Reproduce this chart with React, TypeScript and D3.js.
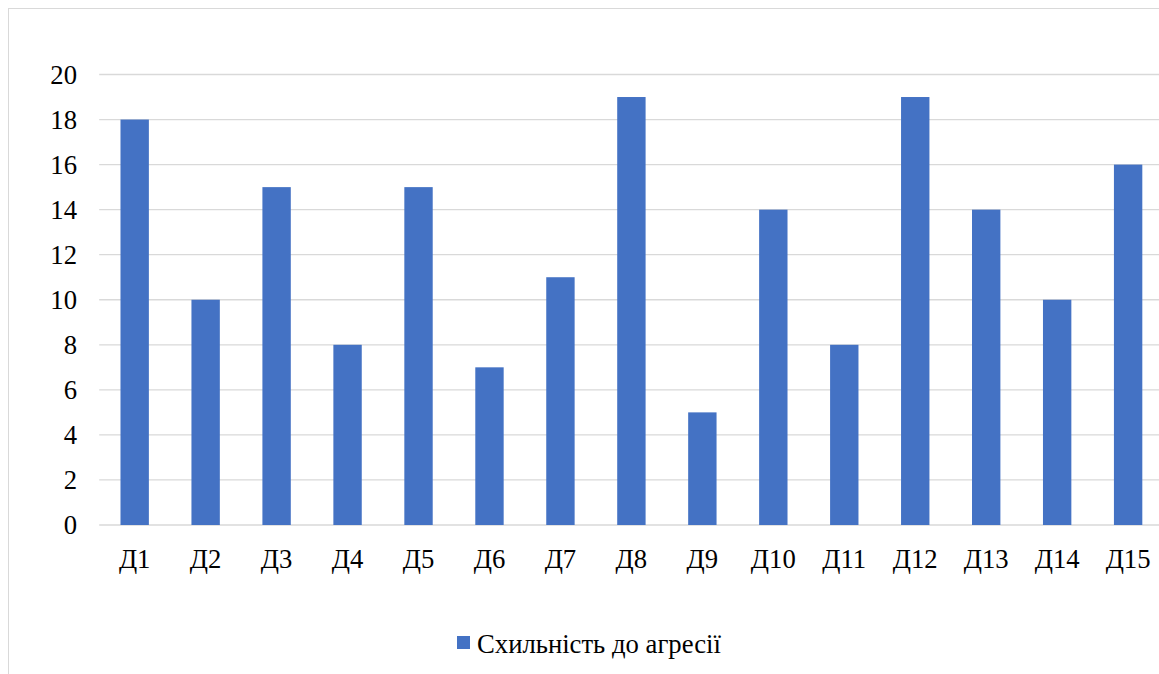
import React from "react";
import * as d3 from "d3";

const categories = ["Д1","Д2","Д3","Д4","Д5","Д6","Д7","Д8","Д9","Д10","Д11","Д12","Д13","Д14","Д15"];
const values = [18,10,15,8,15,7,11,19,5,14,8,19,14,10,16];
const yTicks = [0,2,4,6,8,10,12,14,16,18,20];
const seriesName = "Схильність до агресії";

export default function App() {
  const W = 1160, H = 680;
  const x = d3.scaleBand<string>().domain(categories).range([91.2, 1155.6]).paddingInner(0.6).paddingOuter(0.3);
  const y = d3.scaleLinear().domain([0, 20]).range([517, 66.5]);
  const txt: React.CSSProperties = { fontFamily: '"Liberation Serif", "Times New Roman", serif', fontSize: "26.7px" };
  return (
    <div style={{ position: "fixed", left: 8, top: 8, width: 1151, height: 666, overflow: "hidden" }}>
      <svg width={W} height={H} style={{ display: "block" }}>
        <rect x={0.5} y={0.5} width={W - 1} height={H - 1} fill="#fff" stroke="#d9d9d9" strokeWidth={1} />
        {yTicks.map((t) => (
          <g key={t}>
            <line x1={91.2} x2={1155.6} y1={y(t)} y2={y(t)} stroke="#d9d9d9" strokeWidth={1.3} />
            <text x={69} y={y(t)} dy="0.35em" textAnchor="end" style={txt} fill="#000">{t}</text>
          </g>
        ))}
        {categories.map((c, i) => (
          <g key={c}>
            <rect x={x(c)} y={y(values[i])} width={x.bandwidth()} height={y(0) - y(values[i])} fill="#4472C4" />
            <text x={(x(c) as number) + x.bandwidth() / 2} y={560} textAnchor="middle" style={txt} fill="#000">{c}</text>
          </g>
        ))}
        <rect x={449} y={628} width={13} height={13} fill="#4472C4" />
        <text x={469} y={645} style={txt} fill="#000">{seriesName}</text>
      </svg>
    </div>
  );
}
